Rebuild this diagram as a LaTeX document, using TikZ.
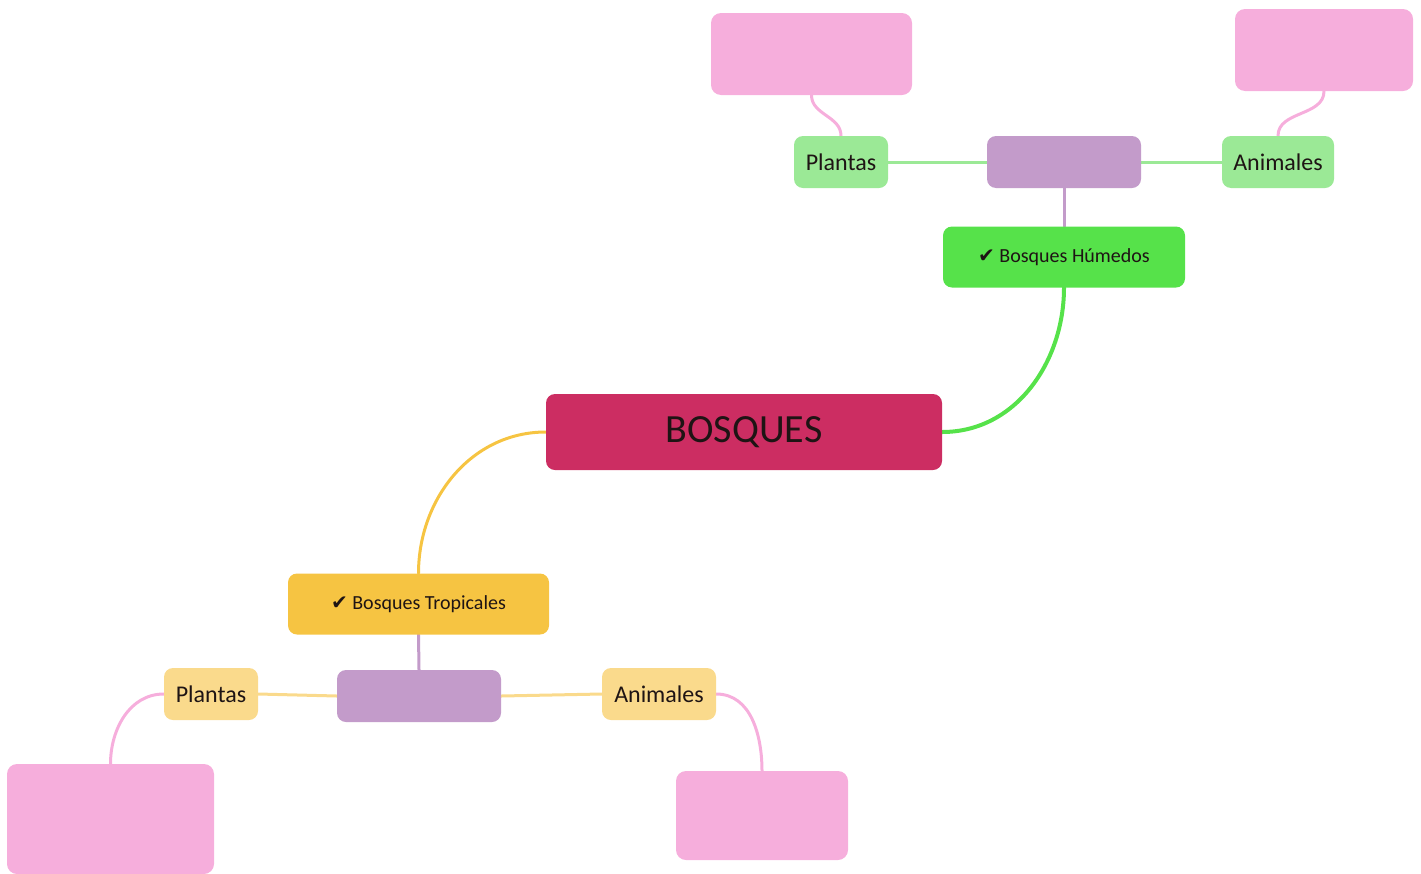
\documentclass[tikz,border=0pt]{standalone}
\usepackage{fontspec}
\setmainfont{Carlito}
\newfontfamily\symfont{DejaVu Sans}
\usetikzlibrary{positioning, backgrounds}
\definecolor{bosqred}{RGB}{204,45,98}
\definecolor{humgreen}{RGB}{86,226,74}
\definecolor{lightgreen}{RGB}{155,233,150}
\definecolor{tropyellow}{RGB}{246,196,66}
\definecolor{lightyellow}{RGB}{250,218,140}
\definecolor{leafpurple}{RGB}{195,155,202}
\definecolor{notepink}{RGB}{246,174,220}
\definecolor{inkdark}{RGB}{30,20,20}
\tikzset{
    rootstyle/.style={rectangle, rounded corners=9pt, fill=bosqred, minimum width=396pt, minimum height=76pt, font=\fontsize{40}{44}\selectfont, text=inkdark},
    branchstyle/.style={rectangle, rounded corners=9pt, fill=#1, minimum height=61pt, font=\fontsize{20}{23}\selectfont, text=inkdark},
    hubstyle/.style={rectangle, rounded corners=9pt, fill=leafpurple, minimum height=52pt},
    leafstyle/.style={rectangle, rounded corners=9pt, fill=#1, minimum height=52pt, font=\fontsize{24}{27}\selectfont, text=inkdark},
    notestyle/.style={rectangle, rounded corners=10pt, fill=notepink},
    link/.style={line width=#1, line cap=round},
    link/.default=3pt
}
\newcommand{\tick}{{\symfont\char"2714}\ }

\begin{document}
\begin{tikzpicture}[x=1pt, y=-1pt]
    \useasboundingbox (0,0) rectangle (1421,873);

    % Central node
    \node[rootstyle] (root) at (744,432) {BOSQUES};

    % Bosques Humedos branch
    \node[branchstyle=humgreen, minimum width=242pt] (humedos) at (1064,257) {\tick Bosques Húmedos};
    \node[hubstyle, minimum width=154pt] (hubtop) at (1064,162) {};
    \node[leafstyle=lightgreen, minimum width=94pt] (plantop) at (841,162) {Plantas};
    \node[leafstyle=lightgreen, minimum width=112pt] (animtop) at (1278,162) {Animales};
    \node[notestyle, minimum width=201pt, minimum height=82pt] (notetl) at (811.5,54) {};
    \node[notestyle, minimum width=178pt, minimum height=82pt] (notetr) at (1324,50) {};

    % Bosques Tropicales branch
    \node[branchstyle=tropyellow, minimum width=261pt] (tropical) at (418.5,604) {\tick Bosques Tropicales};
    \node[hubstyle, minimum width=164pt] (hubbot) at (419,696) {};
    \node[leafstyle=lightyellow, minimum width=94pt] (planbot) at (211,694) {Plantas};
    \node[leafstyle=lightyellow, minimum width=114pt] (animbot) at (659,694) {Animales};
    \node[notestyle, minimum width=207pt, minimum height=110pt] (notebl) at (110.5,819) {};
    \node[notestyle, minimum width=172pt, minimum height=89pt] (notebr) at (762,815.5) {};

    % Connectors
    \begin{scope}[on background layer]
        \draw[link=4pt, humgreen] (root.east) to[out=0, in=-90] (humedos.south);
        \draw[link, tropyellow] (root.west) to[out=180, in=90] (tropical.north);

        \draw[link, leafpurple] (humedos.north) -- (hubtop.south);
        \draw[link, lightgreen] (hubtop.west) -- (plantop.east);
        \draw[link, lightgreen] (hubtop.east) -- (animtop.west);
        \draw[link, notepink] (plantop.north) to[out=90, in=-90] (notetl.south);
        \draw[link, notepink] (animtop.north) to[out=90, in=-90] (notetr.south);

        \draw[link, leafpurple] (tropical.south) -- (hubbot.north);
        \draw[link, lightyellow] (hubbot.west) -- (planbot.east);
        \draw[link, lightyellow] (hubbot.east) -- (animbot.west);
        \draw[link, notepink] (planbot.west) to[out=180, in=90] (notebl.north);
        \draw[link, notepink] (animbot.east) to[out=0, in=90] (notebr.north);
    \end{scope}
\end{tikzpicture}
\end{document}
